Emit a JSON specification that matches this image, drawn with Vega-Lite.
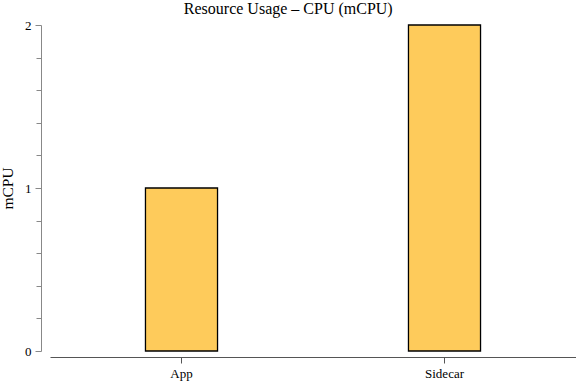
{
  "$schema": "https://vega.github.io/schema/vega-lite/v6.json",
  "width": 526,
  "height": 326,
  "autosize": {"type": "none"},
  "padding": {"left": 50, "top": 25, "right": 0, "bottom": 33},
  "background": "white",
  "title": {"text": "Resource Usage – CPU (mCPU)", "font": "Liberation Serif", "fontSize": 16, "fontWeight": "normal", "color": "black", "anchor": "middle", "frame": "bounds", "offset": 2},
  "config": {"view": {"stroke": null}},
  "data": {"values": [
    {"container": "App", "cpu": 1},
    {"container": "Sidecar", "cpu": 2}
  ]},
  "mark": {"type": "bar", "fill": "#fecb5b", "stroke": "black", "strokeWidth": 1.3, "width": {"band": 0.274}},
  "encoding": {
    "x": {"field": "container", "type": "nominal", "sort": null,
      "scale": {"paddingInner": 0, "paddingOuter": 0},
      "axis": {"title": null, "labelAngle": 0, "labelFont": "Liberation Serif", "labelFontSize": 13, "labelColor": "black", "domainColor": "#555", "tickColor": "#555", "tickSize": 6, "offset": 6, "labelPadding": 4}},
    "y": {"field": "cpu", "type": "quantitative",
      "scale": {"domain": [0, 2], "nice": false},
      "axis": {"title": "mCPU", "titleFont": "Liberation Serif", "titleFontSize": 15.5, "titleFontWeight": "normal", "titleColor": "black", "titlePadding": 9,
        "values": [0, 0.2, 0.4, 0.6, 0.8, 1, 1.2, 1.4, 1.6, 1.8, 2],
        "labelExpr": "abs(datum.value - round(datum.value)) < 1e-6 ? format(datum.value, 'd') : ''",
        "labelOverlap": false, "labelFont": "Liberation Serif", "labelFontSize": 13, "labelColor": "black", "labelPadding": 4,
        "domainColor": "#888", "tickColor": "#888", "grid": false, "offset": 9,
        "tickSize": {"condition": {"test": "abs(datum.value - round(datum.value)) < 1e-6", "value": 6}, "value": 5}}}
  }
}
